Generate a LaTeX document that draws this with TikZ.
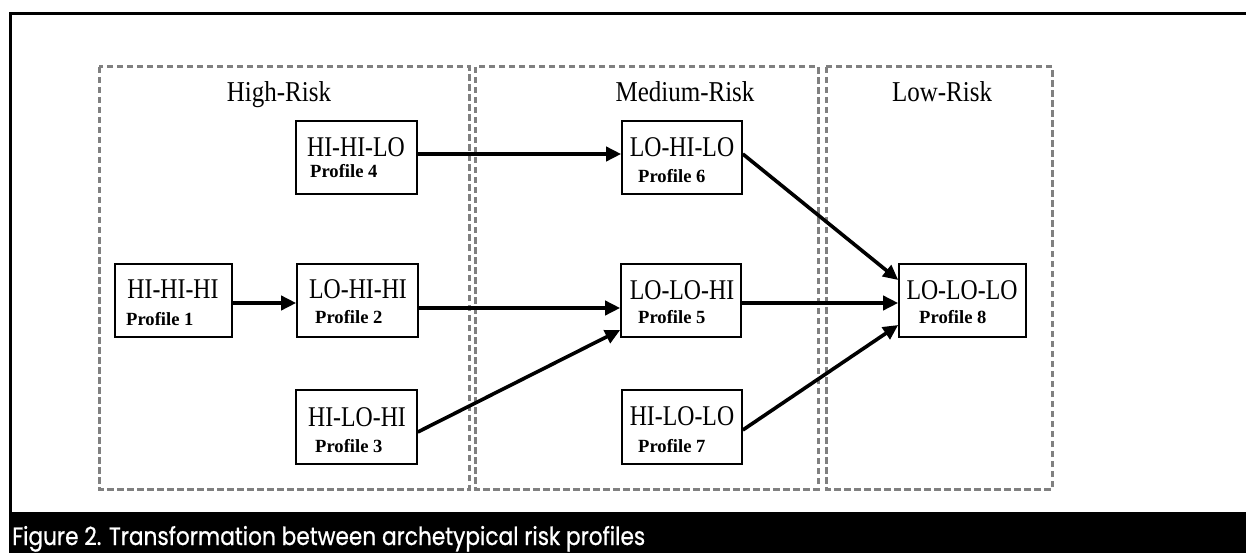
\documentclass[tikz,border=0pt]{standalone}
\usepackage{fontspec}
\setmainfont{Liberation Serif}
\newfontfamily\capfont[FakeBold=0.8]{Poppins}
\usetikzlibrary{arrows.meta}
\tikzset{
  pbox/.style={draw=black, line width=1.6pt, inner sep=0pt, minimum height=73pt},
  zone/.style={draw=black!50, line width=3pt, dash pattern=on 6.5pt off 3.5pt},
  mainlbl/.style={anchor=base, inner sep=0pt, font=\fontsize{23.8}{24}\selectfont},
  proflbl/.style={anchor=base west, inner sep=0pt, font=\fontsize{18.6}{19}\selectfont\bfseries},
  zonelbl/.style={anchor=base, inner sep=0pt, font=\fontsize{25}{25}\selectfont},
  flow/.style={line width=3.6pt, -{Triangle[length=15pt,width=14pt]}},
}
\newcommand{\mstretch}[1]{\scalebox{1}[1.2]{#1}}
\begin{document}
\begin{tikzpicture}[x=1pt,y=-1pt]
\useasboundingbox[fill=white] (0,0) rectangle (1246,553);
% outer frame
\draw[line width=3pt] (10,512) -- (10,14) -- (1246,14);
\fill[black] (8.5,512) rectangle (1246,553);
\node[anchor=base west, inner sep=0pt, text=white] (cap) at (12,545)
  {\resizebox{633pt}{\height}{\capfont\fontsize{25}{25}\selectfont Figure 2. Transformation between archetypical risk profiles}};
% zones
\draw[zone] (99,67) rectangle (469,489);
\draw[zone] (475,67) rectangle (818,489);
\draw[zone] (826,67) rectangle (1052,489);
\node[zonelbl] (zh) at (279,102) {\scalebox{1}[1.15]{High-Risk}};
\node[zonelbl] (zm) at (685,102) {\scalebox{1}[1.15]{Medium-Risk}};
\node[zonelbl] (zl) at (942,102) {\scalebox{1}[1.15]{Low-Risk}};
% boxes
\node[pbox, minimum width=117pt] (p1) at (173.5,300.5) {};
\node[pbox, minimum width=121pt] (p2) at (357.5,300.5) {};
\node[pbox, minimum width=121pt, minimum height=74pt] (p3) at (356.5,427) {};
\node[pbox, minimum width=121pt] (p4) at (356.5,157.5) {};
\node[pbox, minimum width=120pt] (p5) at (681,300.5) {};
\node[pbox, minimum width=120pt] (p6) at (682,157.5) {};
\node[pbox, minimum width=120pt, minimum height=74pt] (p7) at (682,427) {};
\node[pbox, minimum width=127pt] (p8) at (962.5,300.5) {};
% labels
\node[mainlbl] (m1) at (173,298) {\mstretch{HI-HI-HI}};
\node[proflbl] (l1) at (126,325) {Profile 1};
\node[mainlbl] (m2) at (358,298) {\mstretch{LO-HI-HI}};
\node[proflbl] (l2) at (315,323) {Profile 2};
\node[mainlbl] (m3) at (357,426) {\mstretch{HI-LO-HI}};
\node[proflbl] (l3) at (315,452) {Profile 3};
\node[mainlbl] (m4) at (356,157) {\mstretch{HI-HI-LO}};
\node[proflbl] (l4) at (310,178) {Profile 4};
\node[mainlbl] (m5) at (682,299) {\mstretch{LO-LO-HI}};
\node[proflbl] (l5) at (638,323) {Profile 5};
\node[mainlbl] (m6) at (682,157) {\mstretch{LO-HI-LO}};
\node[proflbl] (l6) at (638,183) {Profile 6};
\node[mainlbl] (m7) at (682,425) {\mstretch{HI-LO-LO}};
\node[proflbl] (l7) at (638,452) {Profile 7};
\node[mainlbl] (m8) at (962,299) {\mstretch{LO-LO-LO}};
\node[proflbl] (l8) at (919,323) {Profile 8};
% arrows
\draw[flow] ([yshift=-2.5pt]p1.east) -- ([yshift=-2.5pt]p2.west);
\draw[flow] ([yshift=3.5pt]p4.east) -- ([yshift=3.5pt]p6.west);
\draw[flow] ([yshift=-7.5pt]p2.east) -- ([yshift=-7.5pt]p5.west);
\draw[flow] ([yshift=-5pt]p3.east) -- ([yshift=-29.5pt]p5.west);
\draw[flow] ([yshift=-2.5pt]p5.east) -- ([yshift=-2.5pt]p8.west);
\draw[flow] ([yshift=3.5pt]p6.east) -- ([yshift=20.5pt]p8.west);
\draw[flow] ([yshift=-3pt]p7.east) -- ([yshift=-24.5pt]p8.west);
\end{tikzpicture}
\end{document}
